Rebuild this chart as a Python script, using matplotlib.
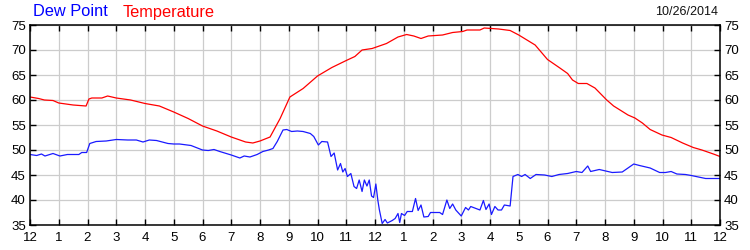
import matplotlib
matplotlib.use("Agg")
import matplotlib.pyplot as plt
import numpy as np

# ── data (hours after midnight, °F) ───────────────────────────────────────────
temp_hours = [0.0, 0.3, 0.5, 0.8, 1.0, 1.5, 1.95, 2.05, 2.15, 2.5, 2.7, 3.0, 3.5,
              4.0, 4.5, 5.0, 5.5, 6.0, 6.5, 7.0, 7.5, 7.75, 8.0, 8.35, 8.7, 9.04,
              9.5, 10.0, 10.5, 11.0, 11.3, 11.55, 11.9, 12.15, 12.4, 12.8, 13.1,
              13.35, 13.6, 13.85, 14.35, 14.7, 15.05, 15.2, 15.65, 15.8, 16.3,
              16.7, 17.0, 17.57, 18.0, 18.43, 18.7, 18.87, 19.07, 19.37, 19.65,
              20.06, 20.3, 20.8, 21.04, 21.3, 21.57, 21.98, 22.3, 22.7, 23.07,
              23.37, 23.77, 24.0]
temp_vals = [60.6, 60.3, 60.0, 59.9, 59.4, 59.0, 58.8, 60.2, 60.4, 60.4, 60.8, 60.4, 60.0,
             59.3, 58.8, 57.6, 56.3, 54.8, 53.8, 52.6, 51.6, 51.4, 51.8, 52.6, 56.3, 60.6,
             62.3, 64.8, 66.5, 67.9, 68.7, 70.0, 70.3, 70.8, 71.3, 72.6, 73.1,
             72.8, 72.3, 72.8, 73.0, 73.5, 73.7, 74.0, 74.0, 74.4, 74.2,
             73.9, 73.0, 71.0, 68.1, 66.4, 65.3, 64.0, 63.3, 63.3, 62.4,
             60.0, 58.8, 57.0, 56.4, 55.4, 54.1, 53.0, 52.5, 51.4, 50.5,
             50.0, 49.2, 48.7]

dew_hours = [0.0, 0.23, 0.4, 0.52, 0.8, 1.04, 1.3, 1.7, 1.8, 1.97, 2.08, 2.3, 2.65,
             3.0, 3.4, 3.7, 3.93, 4.15, 4.4, 4.8, 5.0, 5.2, 5.6, 6.0, 6.2, 6.4,
             6.6, 7.0, 7.3, 7.45, 7.65, 7.9, 8.1, 8.3, 8.45, 8.6, 8.8, 8.93, 9.1,
             9.3, 9.5, 9.75, 9.87, 10.03, 10.15, 10.35, 10.47, 10.58, 10.7, 10.8,
             10.88, 10.96, 11.04, 11.16, 11.27, 11.36, 11.45, 11.55, 11.63, 11.72,
             11.8, 11.88, 11.95, 12.03, 12.1, 12.15, 12.25, 12.35, 12.43, 12.6,
             12.7, 12.8, 12.86, 12.92, 13.03, 13.12, 13.3, 13.41, 13.5, 13.6, 13.7,
             13.85, 13.93, 14.25, 14.35, 14.5, 14.6, 14.7, 14.81, 15.0, 15.15, 15.25,
             15.33, 15.65, 15.77, 15.86, 15.97, 16.05, 16.17, 16.28, 16.4, 16.5,
             16.7, 16.8, 16.97, 17.1, 17.22, 17.4, 17.6, 17.9, 18.15, 18.4, 18.7,
             19.0, 19.2, 19.4, 19.5, 19.8, 20.25, 20.6, 20.8, 21.0, 21.2, 21.57,
             21.9, 22.1, 22.3, 22.5, 22.8, 23.0, 23.5, 24.0]
dew_vals = [49.1, 48.9, 49.2, 48.8, 49.3, 48.8, 49.1, 49.1, 49.5, 49.5, 51.3, 51.7, 51.8,
            52.1, 52.0, 52.0, 51.6, 52.0, 51.9, 51.3, 51.2, 51.2, 50.9, 50.0, 49.9, 50.1,
            49.7, 49.0, 48.4, 48.8, 48.6, 49.1, 49.7, 50.0, 50.3, 51.7, 54.0, 54.1, 53.7,
            53.8, 53.7, 53.3, 52.7, 51.0, 51.7, 51.6, 48.7, 49.4, 46.0, 47.3,
            45.6, 46.3, 44.7, 45.3, 42.7, 42.3, 44.0, 41.7, 44.0, 42.8,
            44.0, 40.8, 40.5, 43.2, 39.9, 38.1, 35.3, 36.1, 35.4, 35.9,
            36.3, 37.3, 35.5, 37.3, 36.9, 37.7, 37.7, 40.3, 37.9, 39.0, 36.6,
            36.7, 37.5, 37.5, 37.1, 40.0, 38.3, 39.2, 38.0, 36.8, 38.5, 38.0,
            38.7, 38.0, 39.9, 38.1, 39.2, 37.1, 38.7, 38.0, 38.0, 39.0,
            38.8, 44.7, 45.1, 44.7, 45.1, 44.3, 45.1, 45.0, 44.7, 45.1, 45.3,
            45.7, 45.5, 46.8, 45.7, 46.1, 45.5, 45.6, 46.4, 47.2, 46.9, 46.4,
            45.5, 45.5, 45.7, 45.2, 45.1, 44.9, 44.3, 44.3]

x_ticks = list(range(0, 25))
x_labels = ["12", "1", "2", "3", "4", "5", "6", "7", "8", "9", "10", "11",
            "12", "1", "2", "3", "4", "5", "6", "7", "8", "9", "10", "11", "12"]
y_ticks = [35, 40, 45, 50, 55, 60, 65, 70, 75]

# ── figure ───────────────────────────────────────────────────────────────────
plt.rcParams["font.family"] = ["Liberation Sans", "DejaVu Sans"]

fig = plt.figure(figsize=(7.5, 2.5), dpi=100)
ax = fig.add_axes([0.04, 0.10, 0.92, 0.80])

ax.plot(temp_hours, temp_vals, color="#ff0000", linewidth=0.9)
ax.plot(dew_hours, dew_vals, color="#1a1aff", linewidth=0.9)

ax.set_xlim(0, 24)
ax.set_ylim(35, 75)
ax.set_xticks(x_ticks)
ax.set_xticklabels(x_labels)
ax.set_yticks(y_ticks)

ax.grid(True, color="#cccccc", linewidth=0.9)
ax.set_axisbelow(True)
ax.tick_params(direction="in", length=4, width=1, labelsize=9.5,
               top=True, right=True, labelright=True, pad=3)
ax.tick_params(axis="x", pad=5)
for s in ax.spines.values():
    s.set_linewidth(1.1)
    s.set_color("black")

fig.text(33 / 750, 1 - 12 / 250, "Dew Point", color="#0000ff", fontsize=11.8, va="center")
fig.text(123 / 750, 1 - 12 / 250, "Temperature", color="#ff0000", fontsize=11.8, va="center")
fig.text(718 / 750, 1 - 12 / 250, "10/26/2014", color="#111111", fontsize=9,
         va="center", ha="right")

fig.savefig("out.png", dpi=100, facecolor="white")
